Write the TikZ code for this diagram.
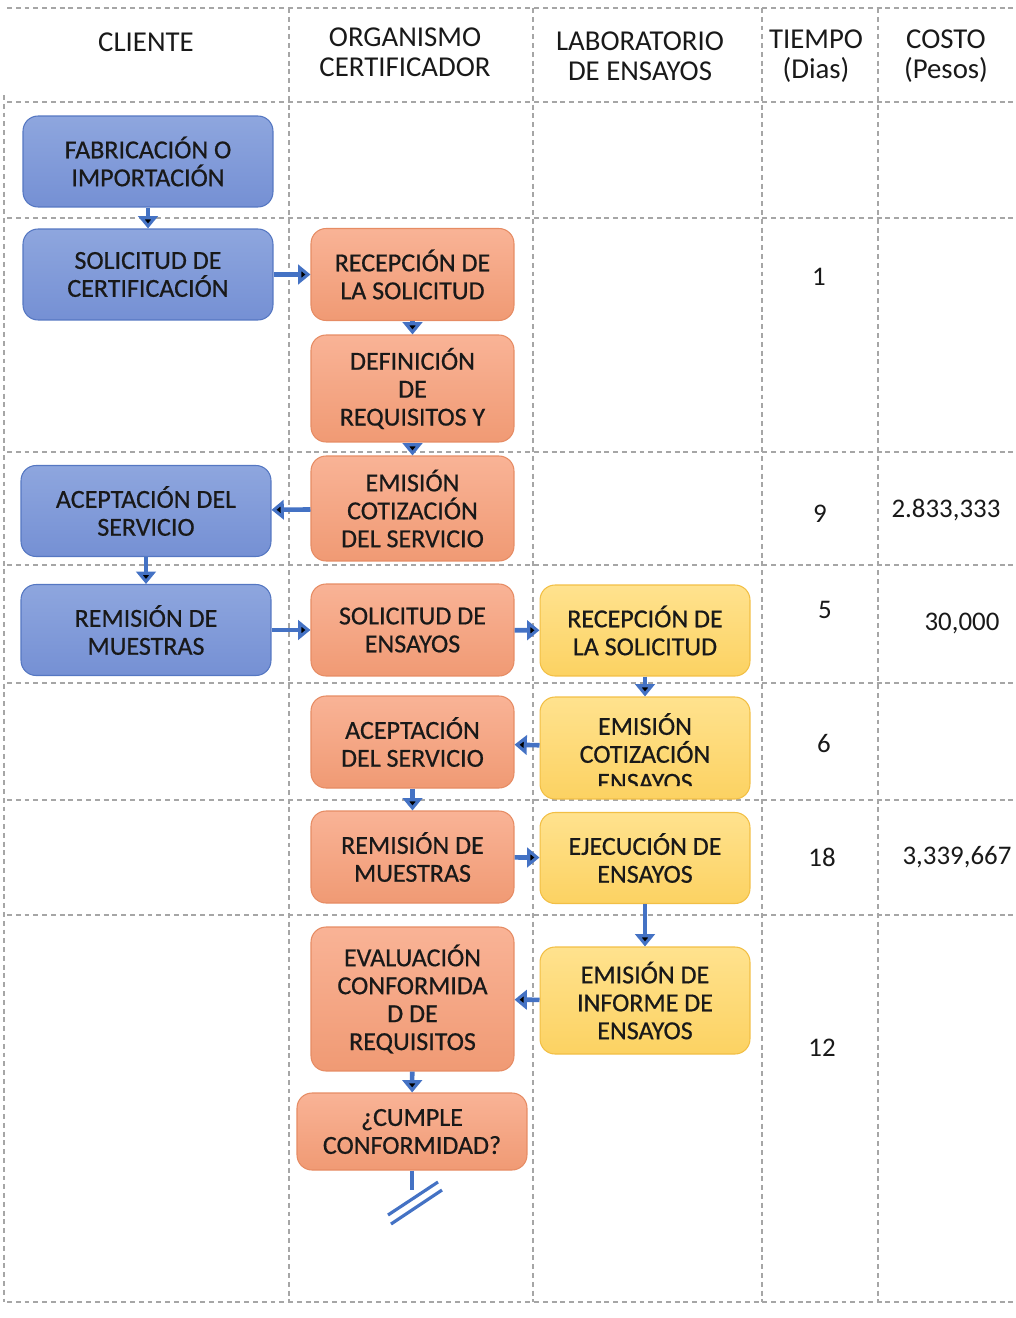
\documentclass[tikz,border=0pt]{standalone}
\usepackage{fontspec}
\setmainfont{Carlito}
\usepackage{tikz}
\usetikzlibrary{calc,positioning,arrows.meta}
\definecolor{azulA}{HTML}{8EA6DE}
\definecolor{azulB}{HTML}{7590D4}
\definecolor{azulC}{HTML}{5577C2}
\definecolor{naranjaA}{HTML}{F9B396}
\definecolor{naranjaB}{HTML}{F09A74}
\definecolor{naranjaC}{HTML}{E68C64}
\definecolor{amarilloA}{HTML}{FFE28E}
\definecolor{amarilloB}{HTML}{FCD262}
\definecolor{amarilloC}{HTML}{F2BF45}
\definecolor{flechaazul}{HTML}{4472C4}

\begin{document}
\begin{tikzpicture}[x=0.02cm,y=-0.02cm]
     \useasboundingbox (0,0) rectangle (1015,1318);
     \tikzstyle{every node}=[align=center,text=black!90,font=\fontsize{14.8}{15.9}\selectfont\addfontfeature{FakeBold=0.6}]
     \tikzstyle{caja}=[rounded corners=0.3cm,line width=0.6pt,inner sep=0pt]
     \tikzstyle{cli}=[caja,draw=azulC,top color=azulA,bottom color=azulB,minimum width=5cm,minimum height=1.82cm]
     \tikzstyle{org}=[caja,draw=naranjaC,top color=naranjaA,bottom color=naranjaB,minimum width=4.06cm,minimum height=1.84cm]
     \tikzstyle{lab}=[caja,draw=amarilloC,top color=amarilloA,bottom color=amarilloB,minimum width=4.2cm,minimum height=1.82cm]
     \tikzstyle{flecha}=[draw=flechaazul,line width=2.6pt,-{Triangle[length=7pt,width=11pt]}]
     \tikzstyle{rejilla}=[draw=gray!70,line width=0.6pt,dash pattern=on 2.8pt off 2.2pt]
     \tikzstyle{cab}=[font=\fontsize{16.4}{17}\selectfont]
     \tikzstyle{dato}=[font=\fontsize{15.3}{17}\selectfont]

     % rejilla
     \foreach \y in {8,102,218,452,565,683,800,915,1302} \draw[rejilla](7,\y)--(1015,\y);
     \draw[rejilla](4,95)--(4,1302);
     \foreach \x in {289,533,762,878} \draw[rejilla](\x,8)--(\x,1302);

     % encabezados
     \node[cab](cliente) at (146,42){CLIENTE};
     \node[cab](organismo) at (405,52){ORGANISMO\\CERTIFICADOR};
     \node[cab](laboratorio) at (640,56){LABORATORIO\\DE ENSAYOS};
     \node[cab](tiempo) at (816,56){TIEMPO\\(Dias)};
     \node[cab](costo) at (946,56){COSTO\\(Pesos)};

     \node[cli](fab) at (148,161.5){FABRICACIÓN O\\IMPORTACIÓN};
     \node[cli](solcert) at (148,274.5){SOLICITUD DE\\CERTIFICACIÓN};
     \node[cli](acep) at (146,511){ACEPTACIÓN DEL\\SERVICIO};
     \node[cli](remi) at (146,630){REMISIÓN DE\\MUESTRAS};

     \node[org](recep) at (412.5,274.5){RECEPCIÓN DE\\LA SOLICITUD};
     \node[org,minimum height=2.14cm](defi) at (412.5,388.5){DEFINICIÓN\\DE\\REQUISITOS Y};
     \node[org,minimum height=2.1cm](emis) at (412.5,508.5){EMISIÓN\\COTIZACIÓN\\DEL SERVICIO};
     \node[org](solens) at (412.5,630){SOLICITUD DE\\ENSAYOS};
     \node[org](acep2) at (412.5,742){ACEPTACIÓN\\DEL SERVICIO};
     \node[org](remi2) at (412.5,857){REMISIÓN DE\\MUESTRAS};
     \node[org,minimum height=2.88cm](eval) at (412.5,999){EVALUACIÓN\\CONFORMIDA\\D DE\\REQUISITOS};
     \node[org,minimum width=4.6cm,minimum height=1.54cm](cumple) at (412,1131.5){¿CUMPLE\\CONFORMIDAD?};

     \node[lab](recep3) at (645,630.5){RECEPCIÓN DE\\LA SOLICITUD};
     \node[lab,minimum height=2.04cm,path picture={
          \clip (path picture bounding box.north west) rectangle ([yshift=0.26cm]path picture bounding box.south east);
          \node at ([yshift=-0.08cm]path picture bounding box.center){EMISIÓN\\COTIZACIÓN\\ENSAYOS};}](cotens) at (645,748){};
     \node[lab](ejec) at (645,858){EJECUCIÓN DE\\ENSAYOS};
     \node[lab,minimum height=2.14cm](inform) at (645,1000.5){EMISIÓN DE\\INFORME DE\\ENSAYOS};

     % tiempo y costo
     \node[dato](t1) at (819,277){1};
     \node[dato](t2) at (820,514){9};
     \node[dato](t3) at (825,610){5};
     \node[dato](t4) at (824,744){6};
     \node[dato](t5) at (822,857){18};
     \node[dato](t6) at (822,1048){12};
     \node[dato](c1) at (946,510){2.833,333};
     \node[dato](c2) at (962,623){30,000};
     \node[dato](c3) at (957,857){3,339,667};

     \path[flecha](fab)edge(solcert);
     \path[flecha](solcert)edge(recep);
     \path[flecha](recep)edge(defi);
     \path[flecha](defi)edge(emis);
     \path[flecha](emis)edge(acep);
     \path[flecha](acep)edge(remi);
     \path[flecha](remi)edge(solens);
     \path[flecha](solens)edge(recep3);
     \path[flecha](recep3)edge(cotens);
     \path[flecha](cotens)edge(acep2);
     \path[flecha](acep2)edge(remi2);
     \path[flecha](remi2)edge(ejec);
     \path[flecha](ejec)edge(inform);
     \path[flecha](inform)edge(eval);
     \path[flecha](eval)edge(cumple);

     \coordinate (corte) at (412,1190);
     \draw[flechaazul,line width=2.4pt](cumple)--(corte);
     \draw[flechaazul,line width=1.8pt]($(corte)+(-24,25)$)--($(corte)+(26,-8)$);
     \draw[flechaazul,line width=1.8pt]($(corte)+(-21,34)$)--($(corte)+(30,0)$);

\end{tikzpicture}
\end{document}
